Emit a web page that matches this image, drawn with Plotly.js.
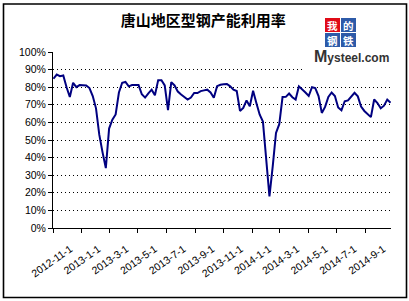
<!DOCTYPE html>
<html>
<head>
<meta charset="utf-8">
<script src="https://cdn.plot.ly/plotly-3.0.1.min.js"></script>
<style>
html,body{margin:0;padding:0;background:#fff;}
#chart{width:409px;height:301px;}
</style>
</head>
<body>
<div id="chart"></div>
<script>
const chartTitle = "唐山地区型钢产能利用率";
const dates = [
"2012-11-02","2012-11-09","2012-11-16","2012-11-23","2012-11-30","2012-12-07","2012-12-14","2012-12-21","2012-12-28",
"2013-01-04","2013-01-11","2013-01-18","2013-01-25","2013-02-01","2013-02-08","2013-02-15","2013-02-22",
"2013-03-01","2013-03-08","2013-03-15","2013-03-22","2013-03-29","2013-04-05","2013-04-12","2013-04-19","2013-04-26",
"2013-05-03","2013-05-10","2013-05-17","2013-05-24","2013-05-31","2013-06-07","2013-06-14","2013-06-21","2013-06-28",
"2013-07-05","2013-07-12","2013-07-19","2013-07-26","2013-08-02","2013-08-09","2013-08-16","2013-08-23","2013-08-30",
"2013-09-06","2013-09-13","2013-09-20","2013-09-27","2013-10-04","2013-10-11","2013-10-18","2013-10-25",
"2013-11-01","2013-11-08","2013-11-15","2013-11-22","2013-11-29","2013-12-06","2013-12-13","2013-12-20","2013-12-27",
"2014-01-03","2014-01-10","2014-01-17","2014-01-24","2014-01-31","2014-02-07","2014-02-14","2014-02-21","2014-02-28",
"2014-03-07","2014-03-14","2014-03-21","2014-03-28","2014-04-04","2014-04-11","2014-04-18","2014-04-25",
"2014-05-02","2014-05-09","2014-05-16","2014-05-23","2014-05-30","2014-06-06","2014-06-13","2014-06-20","2014-06-27",
"2014-07-04","2014-07-11","2014-07-18","2014-07-25","2014-08-01","2014-08-08","2014-08-15","2014-08-22","2014-08-29",
"2014-09-05","2014-09-12","2014-09-19","2014-09-26","2014-10-03","2014-10-10","2014-10-17","2014-10-24"
];
const utilization = [
84.8, 87.2, 86.3, 86.7, 80.0, 74.4, 82.5, 80.0, 81.2, 81.2,
81.0, 79.5, 75.0, 68.0, 53.0, 43.0, 34.0, 56.5, 61.5, 64.5,
77.0, 82.5, 83.0, 80.5, 81.2, 81.2, 81.2, 76.0, 74.1, 76.5,
78.6, 75.4, 84.0, 84.0, 81.0, 67.0, 82.9, 81.0, 77.5, 75.8,
74.3, 73.0, 74.1, 76.7, 76.7, 77.8, 78.2, 78.6, 77.0, 74.0,
80.6, 81.4, 81.7, 81.8, 80.5, 78.6, 77.8, 66.5, 68.2, 72.5,
69.2, 78.0, 71.0, 64.5, 60.5, 40.0, 18.0, 35.0, 54.0, 59.0,
74.4, 74.5, 76.4, 74.3, 73.0, 80.5, 79.0, 77.0, 75.0, 80.0,
79.5, 75.0, 65.4, 68.8, 74.5, 77.0, 75.0, 68.5, 66.9, 72.0,
72.5, 74.5, 76.8, 74.8, 69.0, 66.5, 64.5, 63.0, 73.0, 71.0,
68.0, 69.5, 73.0, 71.2
];
const xRange = ["2012-11-01", "2014-10-25"];
const xTick0 = "2012-11-01";

// pixel -> paper helpers (plot area: x 53..391, y 52..228)
const L = 53, R = 18, T = 52, B = 73, W = 409, H = 301;
const pw = W - L - R, ph = H - T - B;
const px = p => (p - L) / pw;
const py = p => (H - B - p) / ph;

const shapes = [
  {type:"rect", xref:"paper", yref:"paper", x0:px(305), x1:px(393), y0:py(76), y1:py(12),
   fillcolor:"#ffffff", line:{width:0}, layer:"above"},
  {type:"rect", xref:"paper", yref:"paper", x0:px(325), x1:px(340), y0:py(32), y1:py(18), fillcolor:"#e00b17", line:{width:0}, layer:"above"},
  {type:"rect", xref:"paper", yref:"paper", x0:px(341), x1:px(356), y0:py(32), y1:py(18), fillcolor:"#2d5aa8", line:{width:0}, layer:"above"},
  {type:"rect", xref:"paper", yref:"paper", x0:px(325), x1:px(340), y0:py(47), y1:py(33), fillcolor:"#2d5aa8", line:{width:0}, layer:"above"},
  {type:"rect", xref:"paper", yref:"paper", x0:px(341), x1:px(356), y0:py(47), y1:py(33), fillcolor:"#2d5aa8", line:{width:0}, layer:"above"},
  {type:"rect", xref:"paper", yref:"paper", x0:px(3.5), x1:px(406.5), y0:py(297.5), y1:py(4),
   line:{color:"#000", width:1.6}, fillcolor:"rgba(0,0,0,0)", layer:"above"}
];

const cjk = "Noto Sans CJK SC, sans-serif";
function logoChar(ch, cx, cy){
  return {text:"<b>"+ch+"</b>", xref:"paper", yref:"paper", x:px(cx), y:py(cy),
    xanchor:"center", yanchor:"middle", showarrow:false, borderpad:0,
    font:{family:cjk, size:10.5, color:"#ffffff"}};
}
const annotations = [
  logoChar("我", 332.5, 25), logoChar("的", 348.5, 25),
  logoChar("钢", 332.5, 40), logoChar("铁", 348.5, 40),
  {text:"<b><span style='font-size:16px'>M</span>ysteel.com</b>", xref:"paper", yref:"paper",
   x:px(312), y:py(56), xanchor:"left", yanchor:"middle", showarrow:false,
   font:{family:"Liberation Sans, Arial, sans-serif", size:12, color:"#333333"}}
];

const trace = {
  x: dates, y: utilization, type:"scatter", mode:"lines",
  line:{color:"#000080", width:2}, hoverinfo:"skip"
};

const layout = {
  width:W, height:H,
  margin:{l:L, r:R, t:T, b:B, pad:0},
  paper_bgcolor:"#ffffff", plot_bgcolor:"#ffffff",
  showlegend:false,
  title:{text:"<b>"+chartTitle+"</b>", x:0.497, xref:"container", xanchor:"center",
         y:1-21/H, yref:"container", yanchor:"middle",
         font:{family:cjk, size:15, color:"#000"}},
  xaxis:{
    type:"date", range:xRange, tick0:xTick0, dtick:"M2",
    tickformat:"%Y-%-m-%-d", ticklabelmode:"period",
    tickangle:-35, ticks:"outside", ticklen:4, tickcolor:"#000", tickwidth:1,
    ticklabelstandoff:6, ticklabelshift:3,
    showline:true, linecolor:"#000", linewidth:1, showgrid:false, zeroline:false,
    tickfont:{family:"Liberation Sans, Arial, sans-serif", size:10.5, color:"#000"}
  },
  yaxis:{
    range:[0,100], tick0:0, dtick:10, ticksuffix:"%",
    ticks:"outside", ticklen:4, tickcolor:"#000", tickwidth:1,
    showline:true, linecolor:"#000", linewidth:1,
    showgrid:true, gridcolor:"#000", gridwidth:1, griddash:"1px,3px", zeroline:false,
    tickfont:{family:"Liberation Sans, Arial, sans-serif", size:10.5, color:"#000"}
  },
  shapes: shapes,
  annotations: annotations
};

Plotly.newPlot("chart", [trace], layout, {staticPlot:true, displayModeBar:false});
</script>
</body>
</html>
